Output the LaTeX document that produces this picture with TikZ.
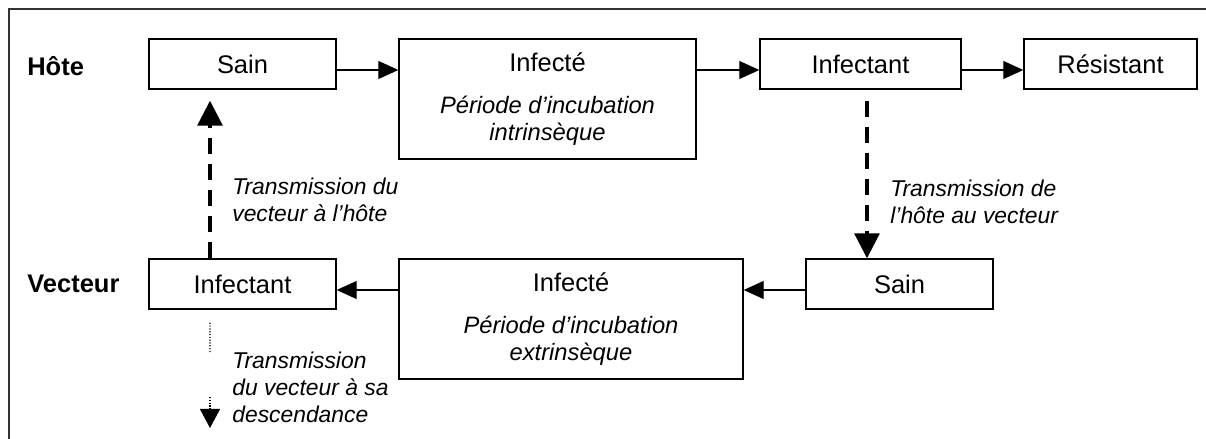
\documentclass[tikz,border=0pt]{standalone}
\usepackage{fontspec}
\setmainfont{Liberation Sans}
\usetikzlibrary{arrows.meta}
\newcommand\police{\fontsize{14.5}{15.4}\selectfont}
\newcommand\petite{\fontsize{13.5}{15.4}\selectfont}
\tikzset{
  boite/.style={draw, line width=0.8pt, minimum height=1cm, align=center, inner sep=0pt, font=\police},
  fleche/.style={line width=0.6pt, -{Triangle[length=0.4cm,width=0.36cm]}},
  transfleche/.style={line width=1.8pt, dash pattern=on 0.32cm off 0.2cm, -{Triangle[length=0.5cm,width=0.5cm]}},
  descfleche/.style={line width=0.7pt, dash pattern=on 0.7pt off 0.9pt},
  legende/.style={align=left, anchor=west, inner sep=0pt, font=\fontsize{13}{15.4}\selectfont\itshape},
  etiquette/.style={anchor=west, inner sep=0pt, font=\fontsize{14.5}{16}\selectfont\bfseries}
}
\begin{document}
\begin{tikzpicture}
  \useasboundingbox (0,0) rectangle (24.12,-8.78);
  % cadre
  \draw[line width=1pt, black!80] (0.18,-8.78) -- (0.18,-0.18) -- (24.12,-0.18);

  % Hôte
  \node[etiquette] (hote) at (0.54,-1.32) {Hôte};
  \node[boite, minimum width=3.74cm] (sainh) at (4.85,-1.28) {Sain};
  \node[boite, minimum width=5.94cm, minimum height=2.4cm] (infecteh) at (10.95,-1.98) {Infecté\\[8.5pt]{\petite\itshape Période d'incubation}\\{\petite\itshape intrinsèque}};
  \node[boite, minimum width=4.02cm] (infectanth) at (17.21,-1.28) {Infectant};
  \node[boite, minimum width=3.46cm] (resistant) at (22.21,-1.28) {Résistant};

  % Vecteur
  \node[etiquette] (vecteur) at (0.54,-5.68) {Vecteur};
  \node[boite, minimum width=3.74cm] (infectantv) at (4.85,-5.68) {Infectant};
  \node[boite, minimum width=6.88cm, minimum height=2.4cm] (infectev) at (11.42,-6.38) {Infecté\\[8.5pt]{\petite\itshape Période d'incubation}\\{\petite\itshape extrinsèque}};
  \node[boite, minimum width=3.74cm] (sainv) at (17.99,-5.68) {Sain};

  % flèches du cycle
  \draw[fleche] ([yshift=-0.12cm]sainh.east) -- ([yshift=-0.12cm]infecteh.west |- sainh.west);
  \draw[fleche] ([yshift=-0.12cm]infecteh.east |- sainh.east) -- ([yshift=-0.12cm]infectanth.west);
  \draw[fleche] ([yshift=-0.12cm]infectanth.east) -- ([yshift=-0.12cm]resistant.west);
  \draw[fleche] ([yshift=-0.12cm]sainv.west) -- ([yshift=-0.12cm]infectev.east |- sainv.west);
  \draw[fleche] ([yshift=-0.12cm]infectev.west |- infectantv.east) -- ([yshift=-0.12cm]infectantv.east);

  % transmissions
  \draw[transfleche] ([xshift=0.13cm,yshift=-0.22cm]infectanth.south) -- ([xshift=0.13cm]infectanth.south |- sainv.north);
  \draw[transfleche] ([xshift=-0.65cm]infectantv.north) -- ([xshift=-0.65cm,yshift=-0.22cm]sainh.south);
  \coordinate (coupe) at (4.2,-7.06);
  \coordinate (reprise) at (4.2,-7.94);
  \coordinate (fin) at (4.2,-8.56);
  \draw[descfleche] ([xshift=-0.65cm,yshift=-0.26cm]infectantv.south) -- (coupe);
  \draw[descfleche, -{Triangle[length=0.38cm,width=0.4cm]}] (reprise) -- (fin);

  \node[legende] (tvh) at (4.64,-3.99) {Transmission du\\vecteur à l'hôte};
  \node[legende] (thv) at (17.8,-4.03) {Transmission de\\l'hôte au vecteur};
  \node[legende] (tdesc) at (4.64,-7.74) {Transmission\\du vecteur à sa\\descendance};
\end{tikzpicture}
\end{document}
